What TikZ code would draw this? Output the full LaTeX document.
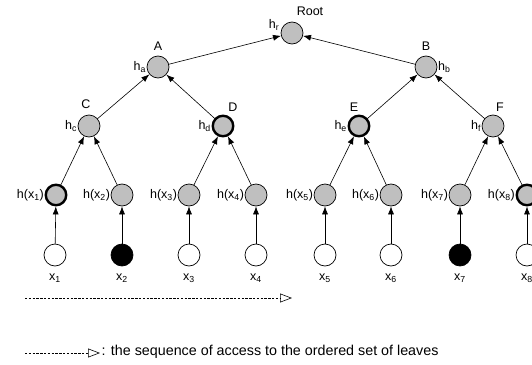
\documentclass[tikz,border=0pt]{standalone}
\usepackage{fontspec}
\setmainfont{Liberation Sans}
\usetikzlibrary{arrows.meta}
\begin{document}
\begin{tikzpicture}[x=1pt,y=-1pt,
  hn/.style={circle,draw,fill=black!25,minimum size=22pt,inner sep=0pt,line width=0.7pt},
  bold/.style={line width=2.4pt,minimum size=20.5pt},
  leaf/.style={circle,draw,fill=white,minimum size=22pt,inner sep=0pt,line width=0.7pt},
  blk/.style={fill=black},
  lab/.style={font=\fontsize{12.5}{13}\selectfont,inner sep=0.5pt},
  arr/.style={-{Latex[length=8pt,width=6pt]},line width=0.6pt,shorten <=-0.5pt},
  seq/.style={dash pattern=on 2.4pt off 1.4pt,line width=0.5pt,-{Triangle[open,length=12pt,width=9pt,line width=0.6pt]}}
]
\useasboundingbox (0,0) rectangle (532,364);
% internal nodes
\node[hn] (R) at (292,33) {};
\node[hn] (A) at (158,67) {};
\node[hn] (B) at (426,67) {};
\node[hn] (C) at (89,126) {};
\node[hn,bold] (D) at (223,126) {};
\node[hn,bold] (E) at (359,126) {};
\node[hn] (F) at (493,126) {};
% hash leaves
\node[hn,bold] (h1) at (56,195) {};
\node[hn] (h2) at (122,195) {};
\node[hn] (h3) at (189,195) {};
\node[hn] (h4) at (256,195) {};
\node[hn] (h5) at (325,195) {};
\node[hn] (h6) at (391,195) {};
\node[hn] (h7) at (460,195) {};
\node[hn,bold] (h8) at (527,195) {};
% leaves
\node[leaf] (x1) at (55,255) {};
\node[leaf,blk] (x2) at (122,255) {};
\node[leaf] (x3) at (189,255) {};
\node[leaf] (x4) at (256,255) {};
\node[leaf] (x5) at (325,255) {};
\node[leaf] (x6) at (391,255) {};
\node[leaf,blk] (x7) at (460,255) {};
\node[leaf] (x8) at (527,255) {};
% edges
\foreach \c/\p in {A/R,B/R,C/A,D/A,E/B,F/B,h1/C,h2/C,h3/D,h4/D,h5/E,h6/E,h7/F,h8/F,x1/h1,x2/h2,x3/h3,x4/h4,x5/h5,x6/h6,x7/h7,x8/h8}
  \draw[arr] (\c) -- (\p);
% letter labels
\node[lab] (tR) at (310,11) {Root};
\node[lab] (tA) at (158,46) {A};
\node[lab] (tB) at (426,46) {B};
\node[lab] (tC) at (86,104) {C};
\node[lab] (tD) at (233,107) {D};
\node[lab] (tE) at (354,107) {E};
\node[lab] (tF) at (500,107) {F};
% hash labels
\node[lab] (lR) at (274,25) {h\textsubscript{r}};
\node[lab,anchor=east] (lA) at (A.west) {h\textsubscript{a}};
\node[lab,anchor=west] (lB) at (B.east) {h\textsubscript{b}};
\node[lab,anchor=east] (lC) at (C.west) {h\textsubscript{c}};
\node[lab,anchor=east] (lD) at (D.west) {h\textsubscript{d}};
\node[lab,anchor=east] (lE) at (E.west) {h\textsubscript{e}};
\node[lab,anchor=east] (lF) at (F.west) {h\textsubscript{f}};
\foreach \i in {1,...,8}{
  \node[lab,anchor=east] (lh\i) at (h\i.west) {h(x\textsubscript{\i})};
  \node[lab] (lx\i) at ([yshift=-23pt]x\i.center) {x\textsubscript{\i}};
}
% access sequence
\coordinate (s0) at (25,298);
\coordinate (s1) at (292,298);
\draw[seq] (s0) -- (s1);
\coordinate (g0) at (25,353);
\coordinate (g1) at (100,353);
\draw[seq] (g0) -- (g1);
\node[lab,anchor=west,font=\fontsize{14.3}{15}\selectfont] (leg) at (101,352) {: the sequence of access to the ordered set of leaves};
\end{tikzpicture}
\end{document}
